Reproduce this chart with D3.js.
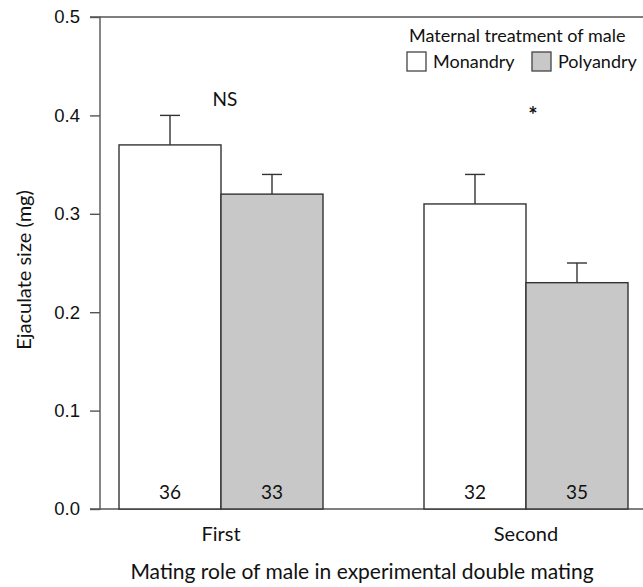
<!DOCTYPE html>
<html>
<head>
<meta charset="utf-8">
<script src="https://cdn.jsdelivr.net/npm/d3@7"></script>
<style>
  body { margin: 0; background: #fff; }
  svg text { fill: #111; }
</style>
</head>
<body>
<div class="chart"></div>
<script>
const roles = ["First", "Second"]
const treatments = ["Monandry", "Polyandry"]
const means = [[0.37, 0.32], [0.31, 0.23]]
const errTop = [[0.40, 0.34], [0.34, 0.25]]
const counts = [["36", "33"], ["32", "35"]]
const signif = ["NS", "*"]
const yTicks = [0.0, 0.1, 0.2, 0.3, 0.4, 0.5]

const W = 643, H = 587
const colors = { Monandry: "#ffffff", Polyandry: "#c8c8c8" }
const font = "Lato, sans-serif"

let svg = d3.select(".chart")
    .append("svg")
    .attr("width", W)
    .attr("height", H)

let yScale = d3.scaleLinear()
    .domain([0, 0.5])
    .range([509, 17])

let xScale = d3.scaleBand()
    .domain(roles)
    .range([68.5, 678.5])

let inner = d3.scaleBand()
    .domain(treatments)
    .range([-102, 102])

// axes
let yAxis = d3.axisLeft(yScale)
    .tickValues(yTicks)
    .tickFormat(d3.format(".1f"))
    .tickSize(10)
    .tickPadding(10)

let yAxisGroup = svg.append("g")
    .attr("class", "axis y-axis")
    .attr("transform", "translate(100,0)")
    .call(yAxis)

yAxisGroup.select(".domain").attr("d", `M-10,${yScale(0.5)}H0V${yScale(0)}H-10`)

yAxisGroup.selectAll("line, .domain").attr("stroke", "#555").attr("stroke-width", 1.4)
yAxisGroup.selectAll("text")
    .attr("font-family", "Liberation Sans, Arial, sans-serif")
    .attr("font-size", 18.5)
    .attr("fill", "#111")

// top and bottom frame lines
svg.append("line")
    .attr("x1", 100).attr("x2", W)
    .attr("y1", yScale(0.5)).attr("y2", yScale(0.5))
    .attr("stroke", "#555").attr("stroke-width", 1.4)

svg.append("line")
    .attr("x1", 100).attr("x2", W)
    .attr("y1", yScale(0)).attr("y2", yScale(0))
    .attr("stroke", "#555").attr("stroke-width", 1.4)

// bars
let rows = []
roles.forEach((r, i) => treatments.forEach((t, j) => {
    rows.push({ role: r, treat: t, mean: means[i][j], top: errTop[i][j], n: counts[i][j] })
}))

let group = svg.append("g")

let bars = group.selectAll(".bar")
    .data(rows)
    .enter()
    .append("g")
    .attr("class", "bar")
    .attr("transform", d => `translate(${xScale(d.role) + xScale.bandwidth() / 2 + inner(d.treat)},0)`)

bars.append("line")
    .attr("x1", inner.bandwidth() / 2).attr("x2", inner.bandwidth() / 2)
    .attr("y1", d => yScale(d.mean)).attr("y2", d => yScale(d.top))
    .attr("stroke", "#333").attr("stroke-width", 1.4)

bars.append("line")
    .attr("x1", inner.bandwidth() / 2 - 10).attr("x2", inner.bandwidth() / 2 + 10)
    .attr("y1", d => yScale(d.top)).attr("y2", d => yScale(d.top))
    .attr("stroke", "#333").attr("stroke-width", 1.4)

bars.append("rect")
    .attr("x", 0)
    .attr("width", inner.bandwidth())
    .attr("y", d => yScale(d.mean))
    .attr("height", d => yScale(0) - yScale(d.mean))
    .attr("fill", d => colors[d.treat])
    .attr("stroke", "#333")
    .attr("stroke-width", 1.4)

bars.append("text")
    .attr("x", inner.bandwidth() / 2)
    .attr("y", yScale(0) - 10)
    .attr("text-anchor", "middle")
    .attr("font-family", font)
    .attr("font-size", 19)
    .text(d => d.n)

// significance
const sigY = [106, 123]
svg.selectAll(".sig")
    .data(roles)
    .enter()
    .append("text")
    .attr("class", "sig")
    .attr("x", (d, i) => xScale(d) + xScale.bandwidth() / 2 + (i ? 7 : 4))
    .attr("y", (d, i) => sigY[i])
    .attr("text-anchor", "middle")
    .attr("font-family", font)
    .attr("font-size", (d, i) => i ? 22 : 19)
    .attr("font-weight", (d, i) => i ? "bold" : "normal")
    .text((d, i) => signif[i])

// x labels
svg.selectAll(".xlab")
    .data(roles)
    .enter()
    .append("text")
    .attr("class", "xlab")
    .attr("x", d => xScale(d) + xScale.bandwidth() / 2)
    .attr("y", 541)
    .attr("text-anchor", "middle")
    .attr("font-family", font)
    .attr("font-size", 20)
    .text(d => d)

svg.append("text")
    .attr("x", 362)
    .attr("y", 579)
    .attr("text-anchor", "middle")
    .attr("font-family", font)
    .attr("font-size", 21)
    .text("Mating role of male in experimental double mating")

svg.append("text")
    .attr("transform", "translate(31,270) rotate(-90)")
    .attr("text-anchor", "middle")
    .attr("font-family", font)
    .attr("font-size", 20)
    .text("Ejaculate size (mg)")

// legend
svg.append("text")
    .attr("x", 409)
    .attr("y", 42)
    .attr("font-family", font)
    .attr("font-size", 18)
    .text("Maternal treatment of male")

const legX = [407, 532]
let leg = svg.selectAll(".leg")
    .data(treatments)
    .enter()
    .append("g")
    .attr("class", "leg")
    .attr("transform", (d, i) => `translate(${legX[i]},52)`)

leg.append("rect")
    .attr("width", 19).attr("height", 19)
    .attr("fill", d => colors[d])
    .attr("stroke", "#444").attr("stroke-width", 1.3)

leg.append("text")
    .attr("x", 26)
    .attr("y", 16)
    .attr("font-family", font)
    .attr("font-size", 18)
    .text(d => d)
</script>
</body>
</html>
